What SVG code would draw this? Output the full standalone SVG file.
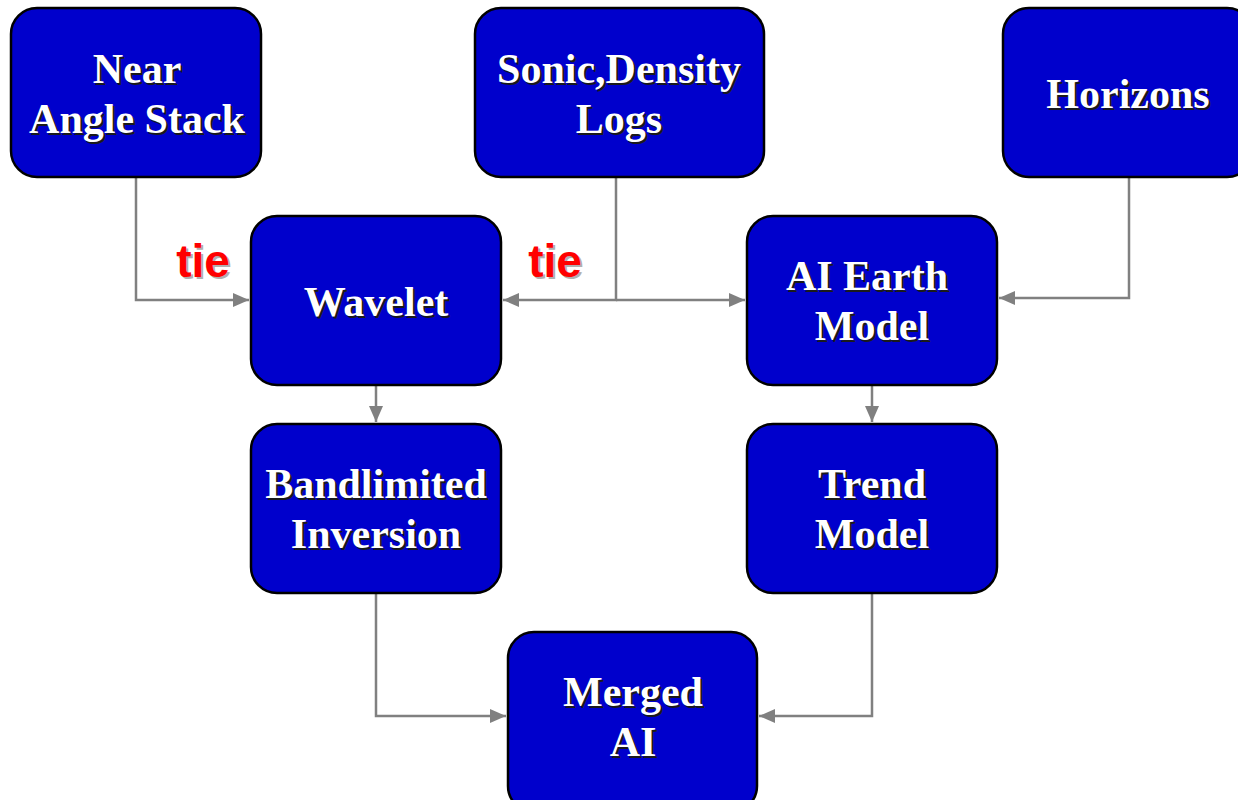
<svg xmlns="http://www.w3.org/2000/svg" width="1238" height="800" viewBox="0 0 1238 800">
<defs>
<style>
.box{fill:#0000CC;stroke:#000;stroke-width:2.5}
.t{font-family:"Liberation Serif","Times New Roman",serif;font-weight:bold;font-size:42px;text-anchor:middle}
.fg{fill:#fff}
.sh{fill:#1a1a1a}
.tie{font-family:"Liberation Sans",Arial,sans-serif;font-weight:bold;font-size:46px;text-anchor:middle}
.c{fill:none;stroke:#808080;stroke-width:2.5}
</style>
<marker id="a" viewBox="0 0 16 14" refX="16" refY="7" markerWidth="16" markerHeight="14" markerUnits="userSpaceOnUse" orient="auto">
<path d="M0,0 L16,7 L0,14 z" fill="#808080"/>
</marker>
</defs>
<rect width="1238" height="800" fill="#fff"/>
<g id="connectors">
<path class="c" d="M136,177 V300 H249" marker-end="url(#a)"/>
<path class="c" d="M616,177 V300 H503" marker-end="url(#a)"/>
<path class="c" d="M616,300 H745" marker-end="url(#a)"/>
<path class="c" d="M1129,177 V298 H999" marker-end="url(#a)"/>
<path class="c" d="M376,385 V422" marker-end="url(#a)"/>
<path class="c" d="M872,385 V422" marker-end="url(#a)"/>
<path class="c" d="M376,593 V716 H506" marker-end="url(#a)"/>
<path class="c" d="M872,593 V716 H759" marker-end="url(#a)"/>
</g>
<g id="tie1">
<text class="tie" x="205" y="279" fill="#b0b0b0">tie</text>
<text class="tie" x="203" y="277" fill="#ff0000">tie</text>
</g>
<g id="tie2">
<text class="tie" x="557" y="279" fill="#b0b0b0">tie</text>
<text class="tie" x="555" y="277" fill="#ff0000">tie</text>
</g>
<g id="near">
<rect class="box" x="11" y="8" width="250" height="169" rx="26"/>
<text class="t sh" x="139" y="85">Near</text><text class="t fg" x="137" y="83">Near</text>
<text class="t sh" x="139" y="135">Angle Stack</text><text class="t fg" x="137" y="133">Angle Stack</text>
</g>
<g id="sonic">
<rect class="box" x="475" y="8" width="289" height="169" rx="26"/>
<text class="t sh" x="621" y="85">Sonic,Density</text><text class="t fg" x="619" y="83">Sonic,Density</text>
<text class="t sh" x="621" y="135">Logs</text><text class="t fg" x="619" y="133">Logs</text>
</g>
<g id="horizons">
<rect class="box" x="1003" y="8" width="250" height="169" rx="26"/>
<text class="t sh" x="1130" y="110">Horizons</text><text class="t fg" x="1128" y="108">Horizons</text>
</g>
<g id="wavelet">
<rect class="box" x="251" y="216" width="250" height="169" rx="26"/>
<text class="t sh" x="378" y="318">Wavelet</text><text class="t fg" x="376" y="316">Wavelet</text>
</g>
<g id="aiearth">
<rect class="box" x="747" y="216" width="250" height="169" rx="26"/>
<text class="t sh" x="869" y="292">AI Earth</text><text class="t fg" x="867" y="290">AI Earth</text>
<text class="t sh" x="874" y="342">Model</text><text class="t fg" x="872" y="340">Model</text>
</g>
<g id="bandlimited">
<rect class="box" x="251" y="424" width="250" height="169" rx="26"/>
<text class="t sh" x="378" y="500">Bandlimited</text><text class="t fg" x="376" y="498">Bandlimited</text>
<text class="t sh" x="378" y="550">Inversion</text><text class="t fg" x="376" y="548">Inversion</text>
</g>
<g id="trend">
<rect class="box" x="747" y="424" width="250" height="169" rx="26"/>
<text class="t sh" x="874" y="500">Trend</text><text class="t fg" x="872" y="498">Trend</text>
<text class="t sh" x="874" y="550">Model</text><text class="t fg" x="872" y="548">Model</text>
</g>
<g id="merged">
<rect class="box" x="508" y="632" width="249" height="180" rx="26"/>
<text class="t sh" x="635" y="708">Merged</text><text class="t fg" x="633" y="706">Merged</text>
<text class="t sh" x="635" y="758">AI</text><text class="t fg" x="633" y="756">AI</text>
</g>
</svg>
